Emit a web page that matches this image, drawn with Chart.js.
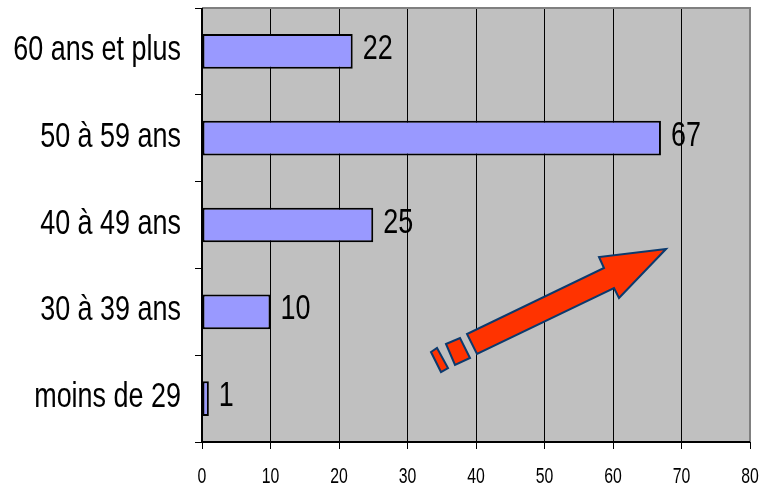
<!DOCTYPE html>
<html><head><meta charset="utf-8">
<script src="https://cdn.jsdelivr.net/npm/chart.js@4"></script>
<style>html,body{margin:0;padding:0;background:#fff}#w{width:761px;height:490px}</style>
</head><body><div id="w"><canvas id="c"></canvas></div>
<script>
const categories = ["60 ans et plus","50 à 59 ans","40 à 49 ans","30 à 39 ans","moins de 29"];
const values = [22, 67, 25, 10, 1];
const xTicks = [0,10,20,30,40,50,60,70,80];
const FONT = "'Liberation Sans',Arial,sans-serif";

function narrowText(c, txt, x, y, size, align, sq){
  c.save(); c.translate(x,y); c.scale(sq,1);
  c.font = size+'px '+FONT; c.textAlign=align; c.textBaseline='middle'; c.fillStyle='#000';
  c.fillText(txt,0,0); c.restore();
}

const bgPlugin = {
  id:'bg',
  beforeDraw(ch){
    const a=ch.chartArea, c=ch.ctx;
    c.save(); c.fillStyle='#C0C0C0'; c.fillRect(a.left,a.top,a.right-a.left,a.bottom-a.top); c.restore();
  },
  afterDraw(ch){
    const a=ch.chartArea, c=ch.ctx;
    c.save();
    c.strokeStyle='#808080'; c.lineWidth=2;
    c.beginPath(); c.moveTo(a.left,a.top); c.lineTo(a.right,a.top); c.lineTo(a.right,a.bottom); c.stroke();
    c.strokeStyle='#000'; c.lineWidth=2;
    c.beginPath(); c.moveTo(a.left,a.top); c.lineTo(a.left,a.bottom); c.lineTo(a.right,a.bottom); c.stroke();
    c.restore();
    const ys=ch.scales.y, xs=ch.scales.x;
    categories.forEach((t,i)=>narrowText(c, t, a.left-21, ys.getPixelForTick(i)-1, 35, 'right', 0.77));
    xTicks.forEach(v=>narrowText(c, String(v), xs.getPixelForValue(v), a.bottom+35, 22, 'center', 0.72));
  }
};
const labelPlugin = {
  id:'lbl',
  afterDatasetsDraw(ch){
    const c=ch.ctx, meta=ch.getDatasetMeta(0);
    meta.data.forEach((b,i)=>narrowText(c, String(values[i]), b.x+10, b.y-2, 35, 'left', 0.77));
  }
};
const arrowPlugin = {
  id:'arrow',
  afterDatasetsDraw(ch){
    const a=ch.chartArea, c=ch.ctx;
    const W=a.right-a.left, H=a.bottom-a.top;
    const P=(px,py)=>[a.left+(px-202)/548*W, a.top+(py-8)/434*H];
    const shapes=[
      [[666,249],[599,257],[604,268],[467,334],[477,354],[614,288],[619,298]],
      [[446,344],[460,338],[470,358],[455,365]],
      [[431,352],[437,348],[448,368],[441,372]]
    ];
    c.save(); c.fillStyle='#FF3300'; c.strokeStyle='#0B3A6E'; c.lineWidth=2; c.lineJoin='miter';
    shapes.forEach(s=>{
      c.beginPath(); s.forEach((p,i)=>{const q=P(p[0],p[1]); i?c.lineTo(q[0],q[1]):c.moveTo(q[0],q[1]);});
      c.closePath(); c.fill(); c.stroke();
    });
    c.restore();
  }
};

new Chart(document.getElementById('c'),{
  type:'bar',
  data:{labels:categories,datasets:[{data:values,backgroundColor:'#9999FF',borderColor:'#000',borderWidth:2,borderSkipped:false,barPercentage:0.4,categoryPercentage:1}]},
  options:{
    indexAxis:'y',responsive:true,maintainAspectRatio:false,animation:false,
    layout:{padding:{top:8,right:11,left:0,bottom:0}},
    plugins:{legend:{display:false},tooltip:{enabled:false}},
    scales:{
      x:{min:0,max:80,
        afterBuildTicks(s){s.ticks=xTicks.map(v=>({value:v}));},
        afterFit(s){s.height=48;},
        grid:{color:'#000',lineWidth:1,tickLength:7,drawTicks:true},
        border:{display:false},
        ticks:{display:false}},
      y:{
        afterFit(s){s.width=202;},
        grid:{offset:true,drawOnChartArea:false,color:'#000',tickLength:7},
        border:{display:false},
        ticks:{display:false}}
    }
  },
  plugins:[bgPlugin,labelPlugin,arrowPlugin]
});
</script></body></html>
